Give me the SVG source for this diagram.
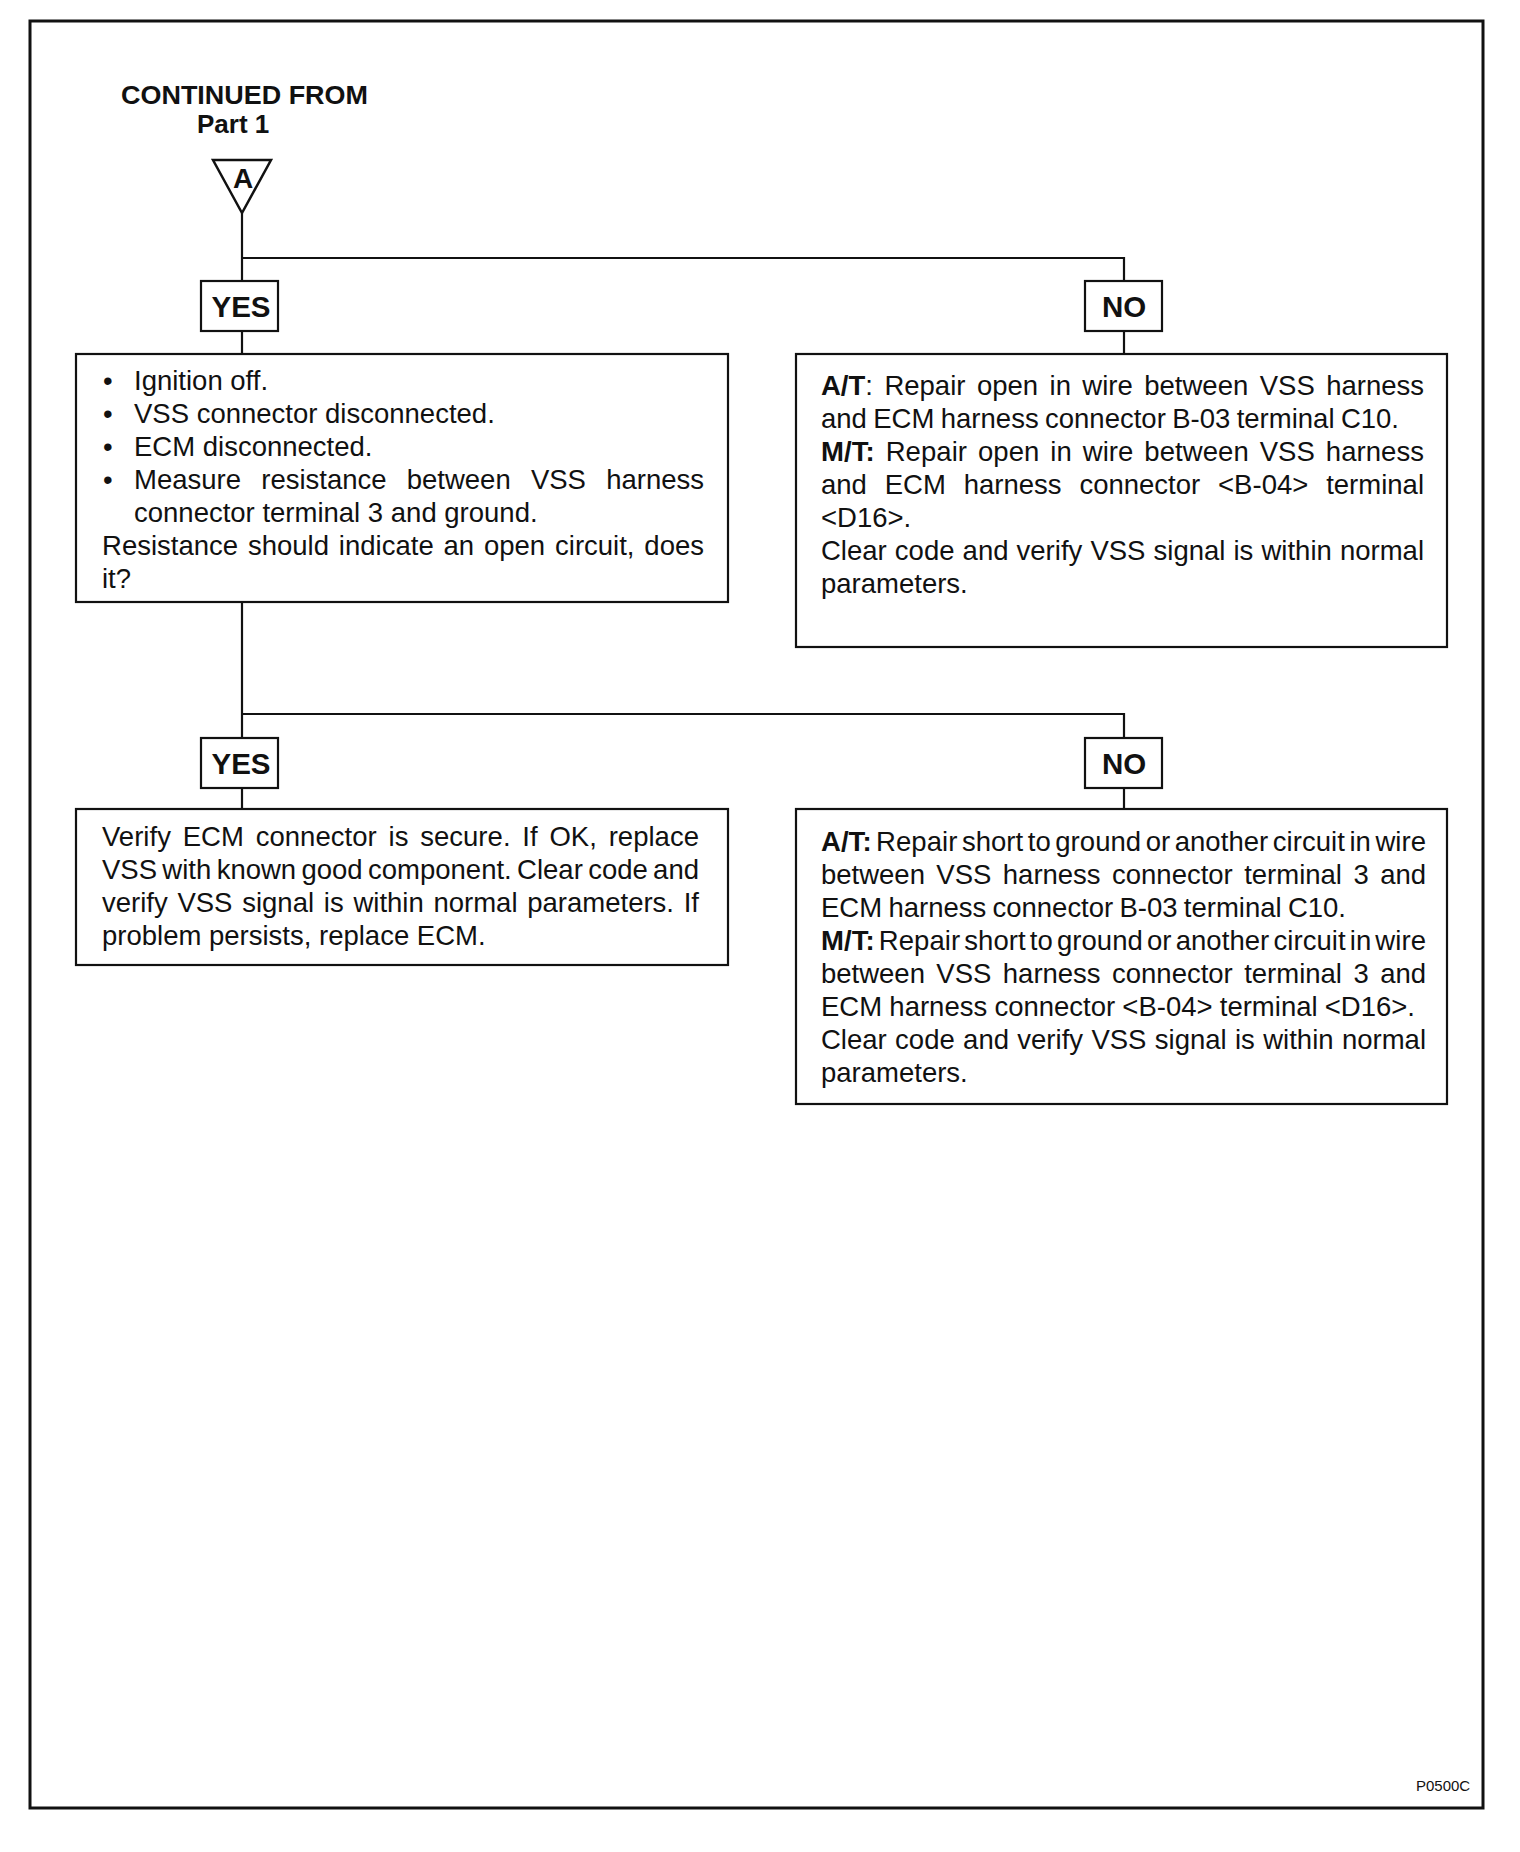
<svg xmlns="http://www.w3.org/2000/svg" width="1520" height="1852" viewBox="0 0 1520 1852">
<style>
.bx{fill:#fff;stroke:#111;stroke-width:2.2}
.ln{fill:none;stroke:#111;stroke-width:2.2}
.t{font-family:"Liberation Sans",Arial,Helvetica,sans-serif;font-size:27.5px;fill:#111}
.b{font-weight:bold}
.lab{font-family:"Liberation Sans",Arial,Helvetica,sans-serif;font-size:29.5px;font-weight:bold;fill:#111;text-anchor:middle}
.hd{font-family:"Liberation Sans",Arial,Helvetica,sans-serif;font-size:26px;font-weight:bold;fill:#111}
</style>
<rect x="0" y="0" width="1520" height="1852" fill="#fff"/>
<rect id="frame" x="30" y="21" width="1453" height="1787" fill="none" stroke="#111" stroke-width="3"/>

<g id="connectors">
<path class="ln" d="M242 213 V281"/>
<path class="ln" d="M242 258 H1124 V281"/>
<path class="ln" d="M242 331 V354"/>
<path class="ln" d="M1124 331 V354"/>
<path class="ln" d="M242 602 V738"/>
<path class="ln" d="M242 714 H1124 V738"/>
<path class="ln" d="M242 788 V809"/>
<path class="ln" d="M1124 788 V809"/>
</g>

<g id="start">
<text class="hd" x="121" y="104" textLength="247" lengthAdjust="spacingAndGlyphs">CONTINUED FROM</text>
<text class="hd" x="197" y="133">Part 1</text>
<polygon points="213,160 271,160 242,213" fill="#fff" stroke="#111" stroke-width="2.5" stroke-linejoin="miter"/>
<text class="lab" x="243" y="188" style="font-size:28px">A</text>
</g>

<g id="yes1">
<rect class="bx" x="201" y="281" width="77" height="50"/>
<text class="lab" x="241" y="317">YES</text>
</g>

<g id="no1">
<rect class="bx" x="1085" y="281" width="77" height="50"/>
<text class="lab" x="1124" y="317">NO</text>
</g>

<g id="check">
<rect class="bx" x="76" y="354" width="652" height="248"/>
<text class="t" x="103" y="390">•</text>
<text class="t" x="103" y="423">•</text>
<text class="t" x="103" y="456">•</text>
<text class="t" x="103" y="489">•</text>
<text class="t" x="134" y="390">Ignition off.</text>
<text class="t" x="134" y="423">VSS connector disconnected.</text>
<text class="t" x="134" y="456">ECM disconnected.</text>
<text class="t" x="134" y="489" word-spacing="12.6" textLength="570" lengthAdjust="spacing">Measure resistance between VSS harness</text>
<text class="t" x="134" y="522">connector terminal 3 and ground.</text>
<text class="t" x="102" y="555" word-spacing="2.2" textLength="602" lengthAdjust="spacing">Resistance should indicate an open circuit, does</text>
<text class="t" x="102" y="588">it?</text>
</g>

<g id="repair-open">
<rect class="bx" x="796" y="354" width="651" height="293"/>
<text class="t" x="821" y="395" word-spacing="3.8" textLength="603" lengthAdjust="spacing"><tspan class="b">A/T</tspan>: Repair open in wire between VSS harness</text>
<text class="t" x="821" y="428" word-spacing="-1.3" textLength="578" lengthAdjust="spacing">and ECM harness connector B-03 terminal C10.</text>
<text class="t" x="821" y="461" word-spacing="3.2" textLength="603" lengthAdjust="spacing"><tspan class="b">M/T:</tspan> Repair open in wire between VSS harness</text>
<text class="t" x="821" y="494" word-spacing="10.2" textLength="603" lengthAdjust="spacing">and ECM harness connector &lt;B-04&gt; terminal</text>
<text class="t" x="821" y="527">&lt;D16&gt;.</text>
<text class="t" x="821" y="560" word-spacing="0.5" textLength="603" lengthAdjust="spacing">Clear code and verify VSS signal is within normal</text>
<text class="t" x="821" y="593">parameters.</text>
</g>

<g id="yes2">
<rect class="bx" x="201" y="738" width="77" height="50"/>
<text class="lab" x="241" y="774">YES</text>
</g>

<g id="no2">
<rect class="bx" x="1085" y="738" width="77" height="50"/>
<text class="lab" x="1124" y="774">NO</text>
</g>

<g id="replace-vss">
<rect class="bx" x="76" y="809" width="652" height="156"/>
<text class="t" x="102" y="846" word-spacing="4.1" textLength="597" lengthAdjust="spacing">Verify ECM connector is secure. If OK, replace</text>
<text class="t" x="102" y="879" word-spacing="-2.3" textLength="597" lengthAdjust="spacing">VSS with known good component. Clear code and</text>
<text class="t" x="102" y="912" word-spacing="2.1" textLength="597" lengthAdjust="spacing">verify VSS signal is within normal parameters. If</text>
<text class="t" x="102" y="945">problem persists, replace ECM.</text>
</g>

<g id="repair-short">
<rect class="bx" x="796" y="809" width="651" height="295"/>
<text class="t" x="821" y="851" word-spacing="-3.2" textLength="605" lengthAdjust="spacing"><tspan class="b">A/T:</tspan> Repair short to ground or another circuit in wire</text>
<text class="t" x="821" y="884" word-spacing="3.8" textLength="605" lengthAdjust="spacing">between VSS harness connector terminal 3 and</text>
<text class="t" x="821" y="917" word-spacing="-1.4" textLength="525" lengthAdjust="spacing">ECM harness connector B-03 terminal C10.</text>
<text class="t" x="821" y="950" word-spacing="-3.6" textLength="605" lengthAdjust="spacing"><tspan class="b">M/T:</tspan> Repair short to ground or another circuit in wire</text>
<text class="t" x="821" y="983" word-spacing="3.8" textLength="605" lengthAdjust="spacing">between VSS harness connector terminal 3 and</text>
<text class="t" x="821" y="1016" word-spacing="-0.4" textLength="594" lengthAdjust="spacing">ECM harness connector &lt;B-04&gt; terminal &lt;D16&gt;.</text>
<text class="t" x="821" y="1049" word-spacing="0.7" textLength="605" lengthAdjust="spacing">Clear code and verify VSS signal is within normal</text>
<text class="t" x="821" y="1082">parameters.</text>
</g>

<text id="code" x="1416" y="1791" style="font-family:'Liberation Sans',Arial,sans-serif;font-size:15px;fill:#111">P0500C</text>
</svg>
